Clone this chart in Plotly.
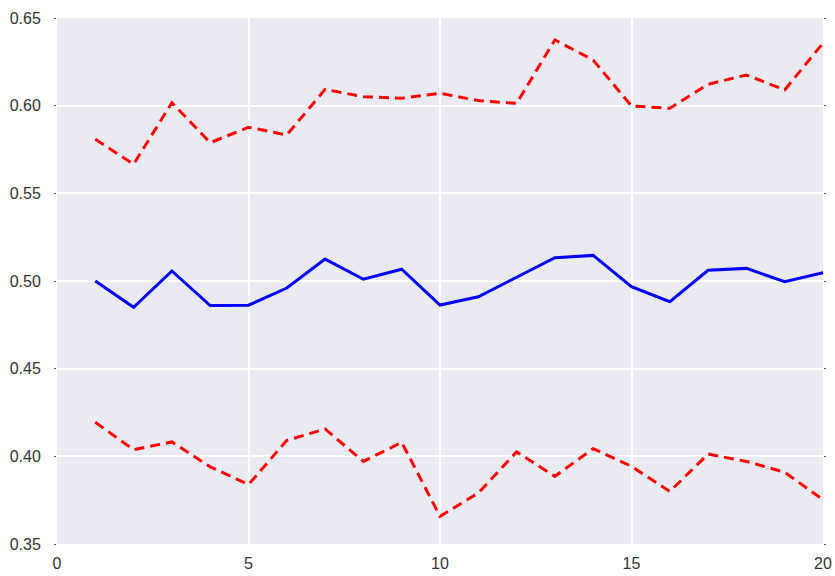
import plotly.graph_objects as go

# Sample index and the three series: mean with upper/lower bounds
steps = list(range(1, 21))
mean_vals = [0.500, 0.485, 0.5057, 0.486, 0.4862, 0.496, 0.5125, 0.501, 0.5067, 0.4863,
             0.491, 0.502, 0.5133, 0.5146, 0.4968, 0.4882, 0.5061, 0.5072, 0.4996, 0.5047]
upper_vals = [0.5808, 0.5666, 0.6017, 0.5789, 0.5877, 0.5833, 0.6093, 0.6051, 0.6042, 0.6071,
              0.6029, 0.6013, 0.6375, 0.626, 0.5998, 0.5985, 0.6122, 0.6175, 0.609, 0.6357]
lower_vals = [0.4194, 0.4038, 0.4082, 0.394, 0.3839, 0.4091, 0.4156, 0.3971, 0.408, 0.3658,
              0.3791, 0.4025, 0.3886, 0.4044, 0.3943, 0.380, 0.4013, 0.3971, 0.3909, 0.3753]

x_ticks = [0, 5, 10, 15, 20]
y_ticks = [0.35, 0.40, 0.45, 0.50, 0.55, 0.60, 0.65]

fig = go.Figure()
fig.add_trace(go.Scatter(x=steps, y=upper_vals, mode="lines",
                         line=dict(color="#FF0000", width=3, dash="10px,6px")))
fig.add_trace(go.Scatter(x=steps, y=mean_vals, mode="lines",
                         line=dict(color="#0000FF", width=3)))
fig.add_trace(go.Scatter(x=steps, y=lower_vals, mode="lines",
                         line=dict(color="#FF0000", width=3, dash="10px,6px")))

fig.update_layout(
    width=835, height=576,
    margin=dict(l=57, r=12, t=18, b=32),
    paper_bgcolor="white",
    plot_bgcolor="#EAEAF2",
    showlegend=False,
    font=dict(family="Liberation Sans, Arial, sans-serif", size=16, color="#333333"),
)
fig.update_xaxes(range=[0, 20], tickvals=x_ticks, ticktext=[str(v) for v in x_ticks],
                 showgrid=True, gridcolor="white", gridwidth=1.5, automargin=False,
                 zeroline=False, showline=False, ticks="", ticklabelstandoff=8)
fig.update_yaxes(range=[0.35, 0.65], tickvals=y_ticks,
                 ticktext=[f"{v:.2f}" for v in y_ticks], automargin=False,
                 showgrid=True, gridcolor="white", gridwidth=1.5,
                 zeroline=False, showline=False, ticks="outside", ticklen=2,
                 tickcolor="#555555", tickwidth=1, mirror="ticks",
                 ticklabelstandoff=10)

fig.write_html("out.html")
